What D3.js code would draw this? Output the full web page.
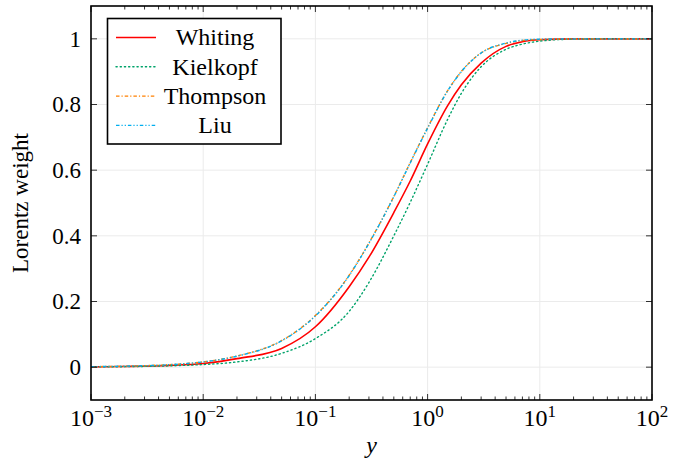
<!DOCTYPE html>
<html>
<head>
<meta charset="utf-8">
<script src="https://cdn.jsdelivr.net/npm/d3@7"></script>
<style>
  html, body { margin: 0; padding: 0; background: #fff; }
  svg text { font-family: "Liberation Serif", "DejaVu Serif", serif; fill: #000; }
</style>
</head>
<body>
<svg id="chart" width="684" height="459"></svg>
<script>
// ---- data ----
const xValues   = [0.001, 0.002, 0.005, 0.01, 0.02, 0.05, 0.1, 0.2, 0.3, 0.5, 0.7, 1, 1.5, 2, 3, 5, 7, 10, 20, 50, 100];
const whiting   = [0.001, 0.002, 0.005, 0.011, 0.026, 0.057, 0.123, 0.245, 0.335, 0.471, 0.567, 0.680, 0.795, 0.860, 0.926, 0.977, 0.991, 0.997, 1.000, 1.000, 1.000];
const kielkopf  = [0.0008, 0.0015, 0.004, 0.008, 0.016, 0.042, 0.087, 0.170, 0.258, 0.400, 0.502, 0.618, 0.753, 0.834, 0.915, 0.968, 0.984, 0.993, 0.999, 1.000, 1.000];
const thompson  = [0.0015, 0.003, 0.0078, 0.016, 0.034, 0.081, 0.157, 0.280, 0.378, 0.520, 0.623, 0.729, 0.841, 0.901, 0.957, 0.986, 0.995, 0.998, 1.000, 1.000, 1.000];
const liu       = [0.0015, 0.003, 0.0075, 0.016, 0.0335, 0.080, 0.156, 0.279, 0.377, 0.519, 0.622, 0.728, 0.840, 0.900, 0.957, 0.987, 0.996, 0.999, 1.000, 1.000, 1.000];
const seriesNames = ["Whiting", "Kielkopf", "Thompson", "Liu"];
const xTickExps = [-3, -2, -1, 0, 1, 2];
const yTicks = [0, 0.2, 0.4, 0.6, 0.8, 1];
const yTickLabels = ["0", "0.2", "0.4", "0.6", "0.8", "1"];

// ---- styles ----
const styles = {
  Whiting:  { color: "#ff0000", dash: null,                width: 1.6 },
  Kielkopf: { color: "#00a36a", dash: "1.2,3",             width: 1.4 },
  Thompson: { color: "#ff8000", dash: "3.5,2,1.2,2",       width: 1.4 },
  Liu:      { color: "#00aeef", dash: "3.5,2,1.2,2,1.2,2", width: 1.4 }
};

const svg = d3.select("#chart");
const L = 91, R = 652, T = 6, B = 400;

const x = d3.scaleLog().domain([1e-3, 1e2]).range([L, R]);
const y = d3.scaleLinear().domain([-0.1, 1.1]).range([B, T]);

// grid
const majorX = xTickExps.map(e => Math.pow(10, e));
const gridG = svg.append("g");
gridG.selectAll("line.gx").data(majorX).join("line")
  .attr("x1", d => x(d)).attr("x2", d => x(d)).attr("y1", T).attr("y2", B)
  .attr("stroke", "#ebebeb").attr("stroke-width", 1);
gridG.selectAll("line.gy").data(yTicks).join("line")
  .attr("y1", d => y(d)).attr("y2", d => y(d)).attr("x1", L).attr("x2", R)
  .attr("stroke", "#ebebeb").attr("stroke-width", 1);

// clip
svg.append("clipPath").attr("id", "clip").append("rect")
  .attr("x", L).attr("y", T).attr("width", R - L).attr("height", B - T);

const data = { Whiting: whiting, Kielkopf: kielkopf, Thompson: thompson, Liu: liu };
const line = d3.line().x(d => x(d[0])).y(d => y(d[1])).curve(d3.curveMonotoneX);
const curvesG = svg.append("g").attr("clip-path", "url(#clip)");
seriesNames.forEach(name => {
  const pts = xValues.map((xv, i) => [xv, data[name][i]]);
  const s = styles[name];
  curvesG.append("path").datum(pts)
    .attr("d", line)
    .attr("fill", "none")
    .attr("stroke", s.color)
    .attr("stroke-width", s.width)
    .attr("stroke-dasharray", s.dash)
    .attr("stroke-linecap", name === "Kielkopf" ? "round" : "butt");
});

// ticks (inward, on all four sides)
const tickG = svg.append("g").attr("stroke", "#000").attr("stroke-width", 0.8);
const minorX = [];
for (let e = -3; e < 2; e++) for (let k = 2; k <= 9; k++) minorX.push(k * Math.pow(10, e));
majorX.forEach(v => {
  tickG.append("line").attr("x1", x(v)).attr("x2", x(v)).attr("y1", B).attr("y2", B - 6);
  tickG.append("line").attr("x1", x(v)).attr("x2", x(v)).attr("y1", T).attr("y2", T + 6);
});
minorX.forEach(v => {
  tickG.append("line").attr("x1", x(v)).attr("x2", x(v)).attr("y1", B).attr("y2", B - 3.5);
  tickG.append("line").attr("x1", x(v)).attr("x2", x(v)).attr("y1", T).attr("y2", T + 3.5);
});
yTicks.forEach(v => {
  tickG.append("line").attr("x1", L).attr("x2", L + 6).attr("y1", y(v)).attr("y2", y(v));
  tickG.append("line").attr("x1", R).attr("x2", R - 6).attr("y1", y(v)).attr("y2", y(v));
});

// frame
svg.append("rect").attr("x", L).attr("y", T).attr("width", R - L).attr("height", B - T)
  .attr("fill", "none").attr("stroke", "#000").attr("stroke-width", 1.6);

// y tick labels
svg.append("g").selectAll("text").data(yTicks).join("text")
  .attr("x", L - 10).attr("y", d => y(d)).attr("dy", "0.34em")
  .attr("text-anchor", "end").attr("font-size", 23)
  .text((d, i) => yTickLabels[i]);

// x tick labels
const xl = svg.append("g");
xTickExps.forEach(e => {
  const t = xl.append("text").attr("x", x(Math.pow(10, e))).attr("y", 426)
    .attr("text-anchor", "middle").attr("font-size", 24);
  t.append("tspan").text("10");
  t.append("tspan").attr("font-size", 17).attr("dy", -9).text(e < 0 ? "\u2212" + (-e) : String(e));
});

// axis titles
svg.append("text").attr("x", (L + R) / 2).attr("y", 453).attr("text-anchor", "middle")
  .attr("font-size", 24).attr("font-style", "italic").text("y");
svg.append("text").attr("transform", `translate(28,${(T + B) / 2}) rotate(-90)`)
  .attr("text-anchor", "middle").attr("font-size", 23).text("Lorentz weight");

// legend
const lg = svg.append("g");
lg.append("rect").attr("x", 107.5).attr("y", 18.5).attr("width", 173.5).attr("height", 125.5)
  .attr("fill", "#fff").attr("stroke", "#000").attr("stroke-width", 1.6);
seriesNames.forEach((name, i) => {
  const ry = 37.5 + i * 29.3;
  const s = styles[name];
  lg.append("line").attr("x1", 116).attr("x2", 156).attr("y1", ry).attr("y2", ry)
    .attr("stroke", s.color).attr("stroke-width", s.width).attr("stroke-dasharray", s.dash)
    .attr("stroke-linecap", name === "Kielkopf" ? "round" : "butt");
  lg.append("text").attr("x", 215).attr("y", ry).attr("dy", "0.33em")
    .attr("text-anchor", "middle").attr("font-size", 24).text(name);
});
</script>
</body>
</html>
